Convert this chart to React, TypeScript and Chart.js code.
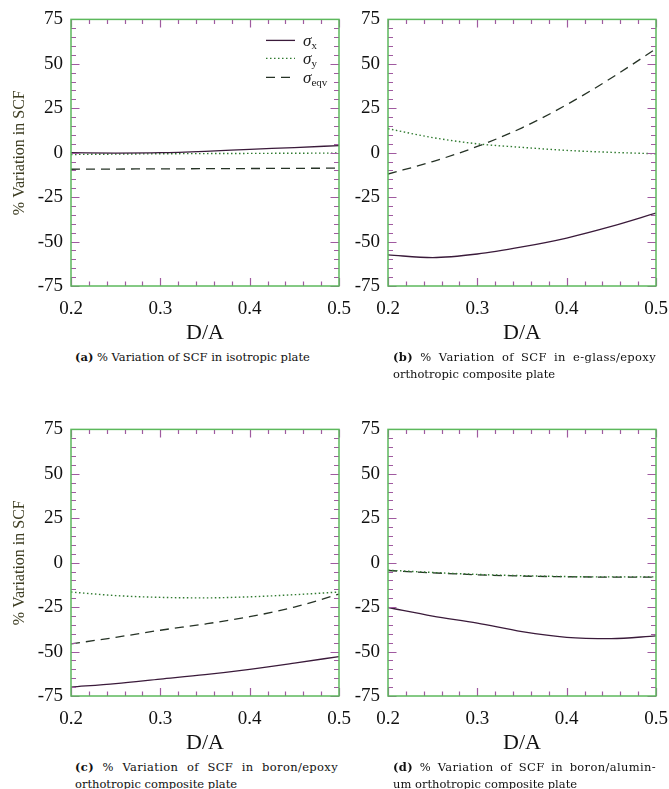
import React, { useEffect, useRef } from 'react';
import { Chart, registerables } from 'chart.js';

Chart.register(...registerables);

// ---------- data ----------
const dOverA = [0.2, 0.25, 0.3, 0.35, 0.4, 0.45, 0.5];
const xTickValues = [0.2, 0.3, 0.4, 0.5];
const yTickValues = [-75, -50, -25, 0, 25, 50, 75];
const seriesNames = ['σx', 'σy', 'σeqv'];

// (a) isotropic plate
const isoSigmaX = [0, -0.2, 0, 0.8, 1.9, 2.9, 4];
const isoSigmaY = [-1, -0.8, -0.6, -0.5, -0.4, -0.3, -0.2];
const isoSigmaEqv = [-9.3, -9.2, -9.1, -9.0, -8.9, -8.8, -8.7];

// (b) e-glass/epoxy
const glassSigmaX = [-57.5, -59, -57, -53, -48, -41.5, -34];
const glassSigmaY = [13.5, 8.5, 5, 3, 1.3, 0.2, -0.6];
const glassSigmaEqv = [-12, -5, 3.5, 14, 27, 42, 58.5];

// (c) boron/epoxy
const boronEpoxySigmaX = [-70, -68, -65.5, -63, -60, -56.5, -52.8];
const boronEpoxySigmaY = [-16.5, -18.5, -19.5, -19.8, -19.2, -18, -16.5];
const boronEpoxySigmaEqv = [-45.7, -42, -38, -34.5, -30.4, -25, -17.7];

// (d) boron/aluminum
const boronAlSigmaX = [-25.2, -30, -34, -38.8, -42, -42.7, -41.2];
const boronAlSigmaY = [-4.2, -5.5, -6.6, -7.3, -7.8, -8, -8];
const boronAlSigmaEqv = [-4.4, -5.7, -6.8, -7.5, -7.9, -8.1, -8.1];

// ---------- styles ----------
const SERIF = "'Liberation Serif', 'Times New Roman', serif";
const COLOR_X = '#3a1a3a';
const COLOR_Y = '#2f7a2f';
const COLOR_EQV = '#263326';
const FRAME = '#5cb85c';
const TICK = '#a05aa0';

const xMinor: number[] = [];
for (let i = 0; i <= 15; i++) xMinor.push(0.2 + i * 0.02);
const yMinor: number[] = [];
for (let i = 0; i <= 30; i++) yMinor.push(-75 + i * 5);

const frameTicks = {
  id: 'frameTicks',
  afterDatasetsDraw(chart: any) {
    const { ctx, chartArea } = chart;
    const { left, right, top, bottom } = chartArea;
    const xs = chart.scales.x;
    const ys = chart.scales.y;
    ctx.save();
    ctx.lineWidth = 1.2;
    ctx.strokeStyle = TICK;
    const isMajorX = (v: number) => xTickValues.some((m) => Math.abs(m - v) < 1e-6);
    const isMajorY = (v: number) => yTickValues.some((m) => Math.abs(m - v) < 1e-6);
    ctx.beginPath();
    xMinor.forEach((v) => {
      const px = Math.round(xs.getPixelForValue(v)) + 0.5;
      const len = isMajorX(v) ? 8 : 4.5;
      ctx.moveTo(px, bottom);
      ctx.lineTo(px, bottom - len);
      ctx.moveTo(px, top);
      ctx.lineTo(px, top + len);
    });
    yMinor.forEach((v) => {
      const py = Math.round(ys.getPixelForValue(v)) + 0.5;
      const len = isMajorY(v) ? 8.5 : 5;
      ctx.moveTo(left, py);
      ctx.lineTo(left + len, py);
      ctx.moveTo(right, py);
      ctx.lineTo(right - len, py);
    });
    ctx.stroke();
    ctx.strokeStyle = FRAME;
    ctx.lineWidth = 1.5;
    ctx.strokeRect(left, top, right - left, bottom - top);
    ctx.restore();
  },
};

const sigmaLegend = {
  id: 'sigmaLegend',
  afterDraw(chart: any, _args: any, opts: any) {
    if (!opts || !opts.show) return;
    const { ctx, chartArea } = chart;
    const { right, top } = chartArea;
    const rows = [
      { color: COLOR_X, dash: [] as number[], sub: 'x', dy: 21 },
      { color: COLOR_Y, dash: [1.5, 2.5], sub: 'y', dy: 39 },
      { color: COLOR_EQV, dash: [9, 6], sub: 'eqv', dy: 58 },
    ];
    ctx.save();
    rows.forEach((r) => {
      const y = top + r.dy;
      ctx.beginPath();
      ctx.setLineDash(r.dash);
      ctx.strokeStyle = r.color;
      ctx.lineWidth = 1.3;
      ctx.moveTo(right - 73, y);
      ctx.lineTo(right - 44, y);
      ctx.stroke();
      ctx.setLineDash([]);
      ctx.fillStyle = '#222';
      ctx.textBaseline = 'alphabetic';
      ctx.textAlign = 'left';
      ctx.font = 'italic 17px ' + SERIF;
      ctx.fillText('σ', right - 36, y + 6);
      const w = ctx.measureText('σ').width;
      ctx.font = '11px ' + SERIF;
      ctx.fillText(r.sub, right - 36 + w, y + 9);
    });
    ctx.restore();
  },
};

type PanelSpec = {
  left: number;
  top: number;
  sx: number[];
  sy: number[];
  seqv: number[];
  yTitle: boolean;
  legend: boolean;
};

const CANVAS_W = 366;
const CANVAS_H = 346;

function Panel({ spec }: { spec: PanelSpec }) {
  const ref = useRef<HTMLCanvasElement>(null);
  useEffect(() => {
    const chart = new Chart(ref.current as HTMLCanvasElement, {
      type: 'line',
      data: {
        labels: dOverA,
        datasets: [
          {
            label: seriesNames[0],
            data: dOverA.map((x, i) => ({ x, y: spec.sx[i] })),
            borderColor: COLOR_X,
            borderWidth: 1.3,
            pointRadius: 0,
            cubicInterpolationMode: 'monotone',
            fill: false,
          },
          {
            label: seriesNames[1],
            data: dOverA.map((x, i) => ({ x, y: spec.sy[i] })),
            borderColor: COLOR_Y,
            borderWidth: 1.4,
            borderDash: [1.5, 2.5],
            pointRadius: 0,
            cubicInterpolationMode: 'monotone',
            fill: false,
          },
          {
            label: seriesNames[2],
            data: dOverA.map((x, i) => ({ x, y: spec.seqv[i] })),
            borderColor: COLOR_EQV,
            borderWidth: 1.3,
            borderDash: [9, 6],
            pointRadius: 0,
            cubicInterpolationMode: 'monotone',
            fill: false,
          },
        ],
      } as any,
      options: {
        responsive: false,
        animation: false,
        events: [],
        layout: { padding: { left: 0, top: 18, right: 27, bottom: 0 } },
        plugins: {
          legend: { display: false },
          tooltip: { enabled: false },
          sigmaLegend: { show: spec.legend },
        } as any,
        scales: {
          x: {
            type: 'linear',
            min: 0.2,
            max: 0.5,
            afterBuildTicks: (s: any) => {
              s.ticks = xTickValues.map((v) => ({ value: v }));
            },
            ticks: {
              callback: (v: any) => Number(v).toFixed(1),
              font: { family: SERIF, size: 19 },
              color: '#111',
              padding: 12,
              maxRotation: 0,
              autoSkip: false,
            },
            grid: { display: false, drawTicks: false },
            border: { display: false },
            title: {
              display: true,
              text: 'D/A',
              font: { family: SERIF, size: 22 },
              color: '#111',
              padding: { top: 0, bottom: 0 },
            },
            afterFit: (s: any) => {
              s.height = 60;
            },
          },
          y: {
            type: 'linear',
            min: -75,
            max: 75,
            afterBuildTicks: (s: any) => {
              s.ticks = yTickValues.map((v) => ({ value: v }));
            },
            ticks: {
              callback: (v: any) => String(v),
              font: { family: SERIF, size: 19 },
              color: '#111',
              padding: 8,
              autoSkip: false,
            },
            grid: { display: false, drawTicks: false },
            border: { display: false },
            title: {
              display: spec.yTitle,
              text: '% Variation in SCF',
              font: { family: SERIF, size: 16 },
              color: '#3d3d22',
              padding: { top: 10, bottom: 0 },
            },
            afterFit: (s: any) => {
              s.width = 71;
            },
          },
        } as any,
      },
      plugins: [frameTicks, sigmaLegend],
    });
    return () => {
      chart.destroy();
    };
  }, [spec]);
  return (
    <div style={{ position: 'absolute', left: spec.left, top: spec.top, width: CANVAS_W, height: CANVAS_H }}>
      <canvas ref={ref} width={CANVAS_W} height={CANVAS_H} style={{ width: CANVAS_W, height: CANVAS_H, display: 'block' }} />
    </div>
  );
}

const panels: PanelSpec[] = [
  { left: 0, top: 0, sx: isoSigmaX, sy: isoSigmaY, seqv: isoSigmaEqv, yTitle: true, legend: true },
  { left: 317, top: 0, sx: glassSigmaX, sy: glassSigmaY, seqv: glassSigmaEqv, yTitle: false, legend: false },
  { left: 0, top: 410, sx: boronEpoxySigmaX, sy: boronEpoxySigmaY, seqv: boronEpoxySigmaEqv, yTitle: true, legend: false },
  { left: 317, top: 410, sx: boronAlSigmaX, sy: boronAlSigmaY, seqv: boronAlSigmaEqv, yTitle: false, legend: false },
];

const CAPTION_FONT = "'DejaVu Serif', 'Liberation Serif', serif";

function Caption({ left, top, tag, line1, line2 }: { left: number; top: number; tag: string; line1: string; line2?: string }) {
  const base: React.CSSProperties = {
    fontFamily: CAPTION_FONT,
    fontSize: 11.5,
    lineHeight: '17px',
    color: '#111',
    whiteSpace: 'nowrap',
  };
  return (
    <div style={{ position: 'absolute', left, top, width: 263 }}>
      <div
        style={{
          ...base,
          whiteSpace: 'normal',
          letterSpacing: line2 ? 0.35 : 0,
          textAlign: line2 ? 'justify' : 'left',
          textAlignLast: line2 ? 'justify' : 'left',
        } as React.CSSProperties}
      >
        <b>{tag}</b> {line1}
      </div>
      {line2 ? <div style={base}>{line2}</div> : null}
    </div>
  );
}

export default function App() {
  return (
    <div
      style={{
        position: 'absolute',
        left: 0,
        top: 0,
        width: 669,
        height: 789,
        overflow: 'hidden',
        background: '#fff',
      }}
    >
      {panels.map((p, i) => (
        <Panel key={i} spec={p} />
      ))}
      <Caption left={75} top={349} tag="(a)" line1="% Variation of SCF in isotropic plate" />
      <Caption left={393} top={349} tag="(b)" line1="% Variation of SCF in e-glass/epoxy" line2="orthotropic composite plate" />
      <Caption left={75} top={759} tag="(c)" line1="% Variation of SCF in boron/epoxy" line2="orthotropic composite plate" />
      <Caption left={393} top={759} tag="(d)" line1="% Variation of SCF in boron/alumin-" line2="um orthotropic composite plate" />
    </div>
  );
}
